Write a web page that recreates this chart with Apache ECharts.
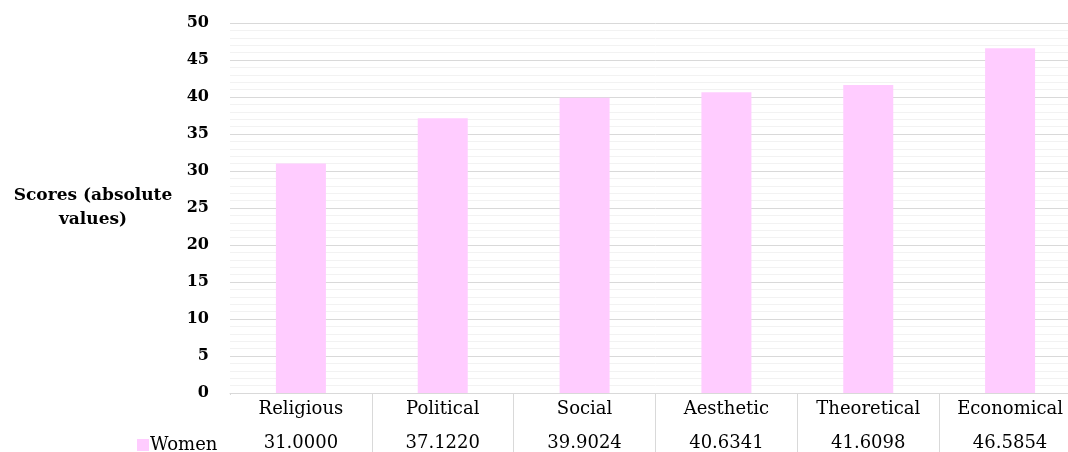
<!DOCTYPE html>
<html>
<head>
<meta charset="utf-8">
<script src="https://cdn.jsdelivr.net/npm/echarts@6/dist/echarts.min.js"></script>
<style>
html,body{margin:0;padding:0;overflow:hidden;background:#fff;}
#chart{width:1090px;height:452px;}
</style>
</head>
<body>
<div id="chart"></div>
<script>
const categories = ['Religious', 'Political', 'Social', 'Aesthetic', 'Theoretical', 'Economical'];
const women = [31.0000, 37.1220, 39.9024, 40.6341, 41.6098, 46.5854];
const seriesName = 'Women';
const yTicks = { min: 0, max: 50, interval: 5 };
const yTitle = 'Scores (absolute\nvalues)';

const FONT = 'DejaVu Serif';
const chart = echarts.init(document.getElementById('chart'), null, { renderer: 'canvas' });
chart.setOption({
  animation: false,
  grid: { left: 230, right: 9, top: 23, bottom: 58, containLabel: false },
  legend: {
    data: [seriesName],
    left: 137, top: 436,
    padding: 0,
    icon: 'rect', itemWidth: 12, itemHeight: 12,
    textStyle: { fontFamily: FONT, fontSize: 18, color: '#000', padding: [0, 0, 0, -4] }
  },
  graphic: [{
    type: 'rect', z: 100,
    shape: { x: 228, y: 395, width: 4, height: 60 },
    style: { fill: '#fff' }
  }],
  xAxis: {
    type: 'category',
    data: categories,
    axisLine: { show: true, lineStyle: { color: '#d9d9d9', width: 1 } },
    axisTick: { show: true, length: 60, lineStyle: { color: '#d9d9d9' } },
    axisLabel: {
      margin: -1,
      interval: 0,
      formatter: function (v, i) { return '{c|' + v + '}\n{v|' + women[i].toFixed(4) + '}'; },
      rich: {
        c: { fontFamily: FONT, fontSize: 18, color: '#000', lineHeight: 34 },
        v: { fontFamily: FONT, fontSize: 18, color: '#000', lineHeight: 34 }
      }
    }
  },
  yAxis: {
    type: 'value',
    min: yTicks.min, max: yTicks.max, interval: yTicks.interval,
    name: yTitle,
    nameLocation: 'middle',
    nameRotate: 0,
    nameGap: 137,
    nameTextStyle: { fontFamily: FONT, fontSize: 17, fontWeight: 'bold', color: '#000', align: 'center', verticalAlign: 'middle', lineHeight: 24 },
    axisLine: { show: false },
    axisTick: { show: false },
    axisLabel: { fontFamily: FONT, fontSize: 16, fontWeight: 'bold', color: '#000', margin: 21 },
    splitLine: { show: true, lineStyle: { color: '#d9d9d9', width: 1 } },
    minorTick: { show: false, splitNumber: 5 },
    minorSplitLine: { show: true, lineStyle: { color: '#f2f2f2', width: 1 } }
  },
  series: [{
    name: seriesName,
    type: 'bar',
    data: women,
    barWidth: 50,
    itemStyle: { color: '#ffccff' }
  }]
});
</script>
</body>
</html>
